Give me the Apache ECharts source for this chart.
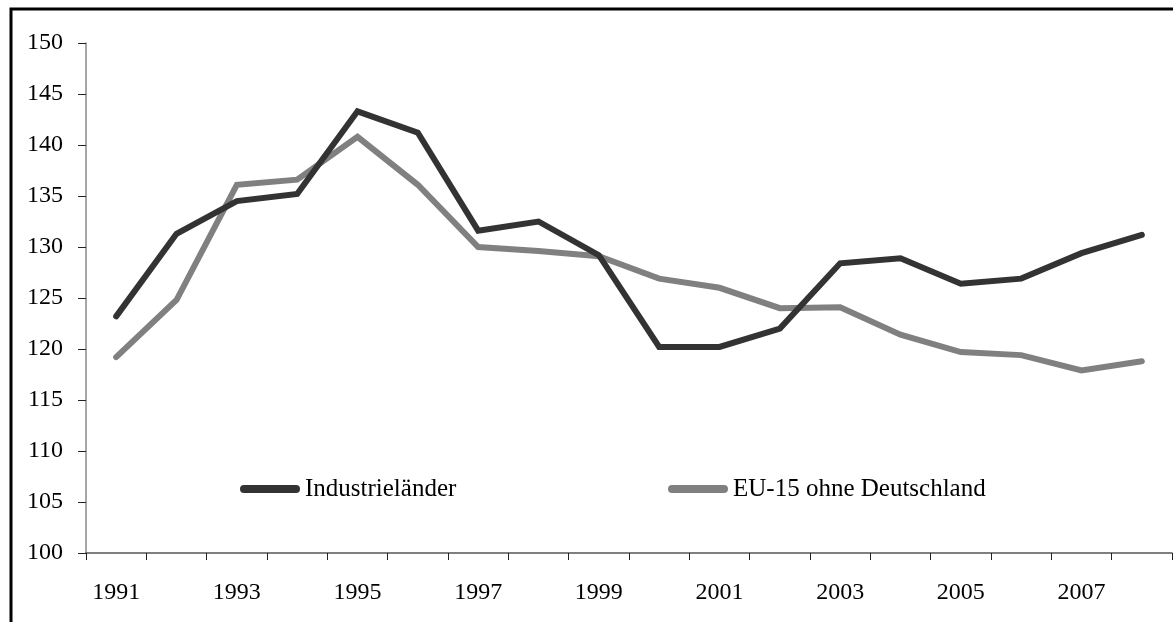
<!DOCTYPE html>
<html>
<head>
<meta charset="utf-8">
<script src="https://cdn.jsdelivr.net/npm/echarts@6/dist/echarts.min.js"></script>
<style>
  html, body { margin: 0; padding: 0; background: #fff; }
  #ch1 { width: 1173px; height: 622px; }
</style>
</head>
<body>
<div id="ch1"></div>
<script>
const years = ['1991', '1992', '1993', '1994', '1995', '1996', '1997', '1998', '1999',
  '2000', '2001', '2002', '2003', '2004', '2005', '2006', '2007', '2008']
const industrie = [123.2, 131.3, 134.5, 135.2, 143.3, 141.2, 131.6, 132.5, 129.2,
  120.2, 120.2, 122.0, 128.4, 128.9, 126.4, 126.9, 129.4, 131.2]
const eu15 = [119.2, 124.8, 136.1, 136.6, 140.8, 136.1, 130.0, 129.6, 129.1,
  126.9, 126.0, 124.0, 124.1, 121.4, 119.7, 119.4, 117.9, 118.8]
const seriesNames = ['Industrieländer', 'EU-15 ohne Deutschland']

const font = "'Liberation Serif', 'Times New Roman', serif"
const capsule = 'path://M4,0 H56 A4,4 0 0 1 56,8 H4 A4,4 0 0 1 4,0 Z'

const cht1 = echarts.init(document.getElementById('ch1'))

const legendText = { fontFamily: font, fontSize: 25, color: '#000', lineHeight: 30 }

const options1 = {
  animation: false,
  backgroundColor: '#fff',
  textStyle: { fontFamily: font, color: '#000' },
  graphic: [{
    type: 'rect',
    shape: { x: 11, y: 9, width: 1400, height: 1000 },
    style: { fill: 'none', stroke: '#000', lineWidth: 3 },
    silent: true
  }],
  grid: { left: 86, top: 43, right: 1, bottom: 69 },
  legend: [
    {
      data: [seriesNames[0]],
      left: 240, top: 474, padding: 0,
      icon: capsule, itemWidth: 60, itemHeight: 8, itemGap: 0,
      textStyle: legendText
    },
    {
      data: [seriesNames[1]],
      left: 668, top: 474, padding: 0,
      icon: capsule, itemWidth: 60, itemHeight: 8, itemGap: 0,
      textStyle: legendText
    }
  ],
  xAxis: {
    type: 'category',
    data: years,
    boundaryGap: true,
    axisLine: { lineStyle: { color: '#555', width: 1.5 } },
    axisTick: { show: true, length: 7, interval: 0, lineStyle: { color: '#222' } },
    axisLabel: { interval: 1, margin: 28, fontSize: 24, color: '#000', fontFamily: font },
    splitLine: { show: false }
  },
  yAxis: {
    type: 'value',
    min: 100, max: 150, interval: 5,
    axisLine: { show: true, lineStyle: { color: '#888', width: 1.5 } },
    axisTick: { show: true, length: 8, lineStyle: { color: '#222' } },
    axisLabel: { margin: 23, fontSize: 24, color: '#000', fontFamily: font },
    splitLine: { show: false }
  },
  series: [
    {
      name: seriesNames[0],
      type: 'line',
      data: industrie,
      symbol: 'none',
      color: '#333333',
      lineStyle: { width: 6, color: '#333333', cap: 'round', join: 'miter' },
      z: 3
    },
    {
      name: seriesNames[1],
      type: 'line',
      data: eu15,
      symbol: 'none',
      color: '#808080',
      lineStyle: { width: 6, color: '#808080', cap: 'round', join: 'miter' },
      z: 2
    }
  ]
}
cht1.setOption(options1)
</script>
</body>
</html>
